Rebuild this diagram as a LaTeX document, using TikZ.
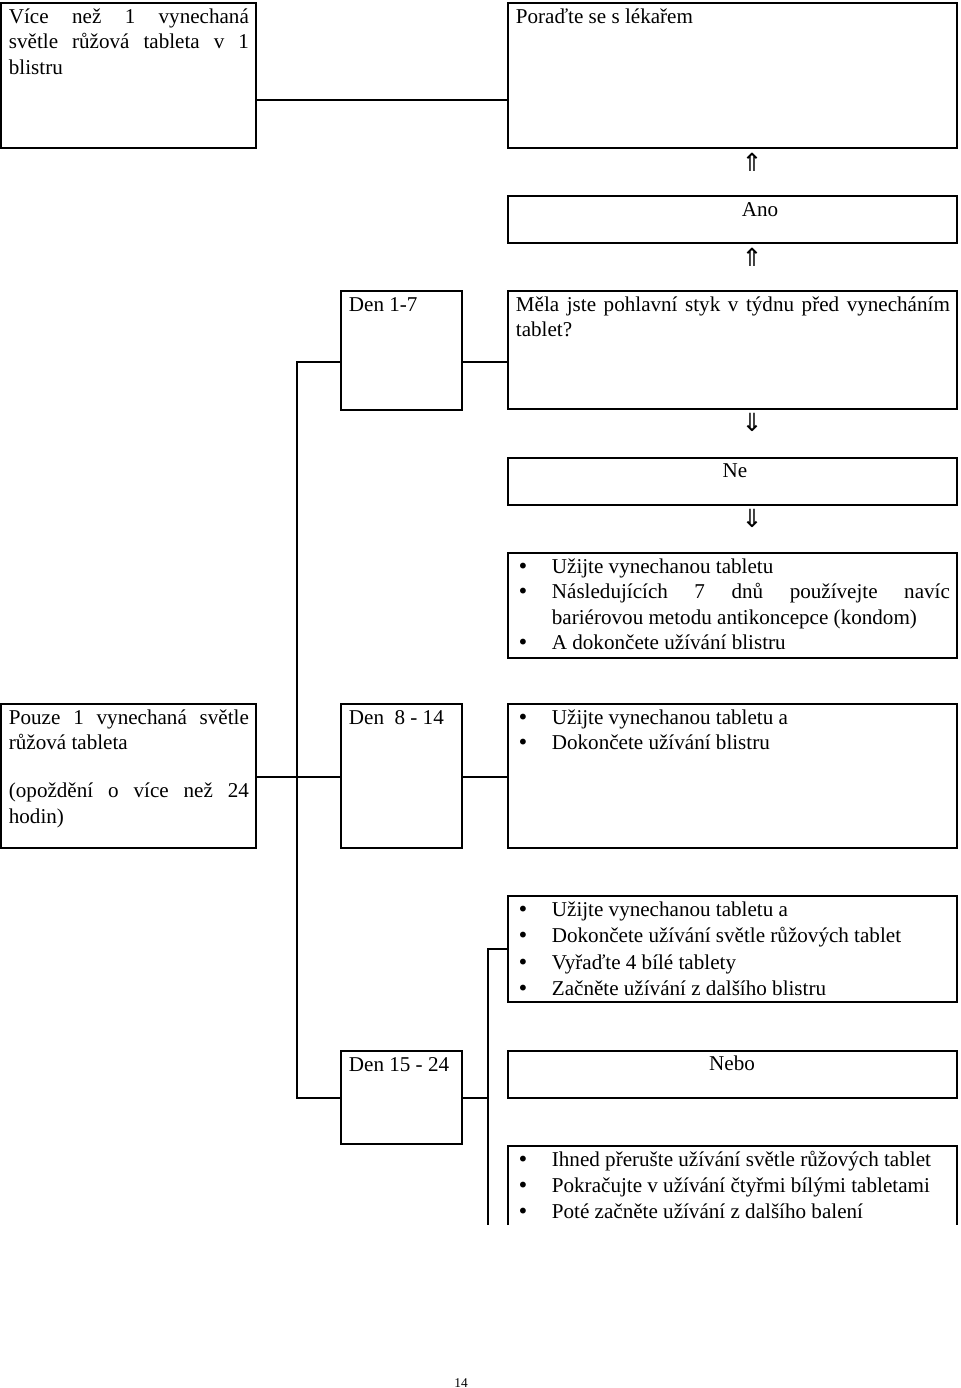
\documentclass[tikz,border=0pt]{standalone}
\usepackage{fontspec}
\setmainfont{Liberation Serif}
\newfontfamily\arrowfont{DejaVu Sans}
\usetikzlibrary{calc}
\hyphenpenalty=10000
\exhyphenpenalty=10000
\tolerance=10000
\hbadness=10000
\newcommand\bitem[1]{\noindent\hangindent=18pt\hangafter=1\makebox[18pt][l]{\hspace{0.6pt}{\arrowfont\fontsize{10}{12}\selectfont •}}#1}
\tikzset{
  bx/.style={draw, line width=0.9pt, inner sep=0pt, outer sep=0pt, anchor=north west},
  sz/.style 2 args={minimum width=#1*0.5pt, minimum height=#2*0.5pt},
  tx/.style={anchor=base west, inner sep=0pt},
  wide/.style={tx, text width=217pt, align=justify},
  narrow/.style={tx, text width=120pt, align=justify},
  ctr/.style={anchor=base, inner sep=0pt},
  arr/.style={inner sep=0pt, font=\arrowfont\fontsize{12.5}{14}\selectfont},
  ln/.style={line width=0.75pt}}
\begin{document}
\begin{tikzpicture}[x=0.5pt,y=-0.5pt, font=\fontsize{10.55}{12.75}\selectfont]
\useasboundingbox (0,0) rectangle (960,1388);

% boxes
\node[bx, sz={255}{145}] (A) at (1,3) {};
\node[bx, sz={449}{145}] (B) at (508,3) {};
\node[bx, sz={449}{47}] (Ano) at (508,196) {};
\node[bx, sz={449}{118}] (Q) at (508,291) {};
\node[bx, sz={121}{119}] (D1) at (341,291) {};
\node[bx, sz={449}{47}] (Ne) at (508,458) {};
\node[bx, sz={449}{105}] (C) at (508,553) {};
\node[bx, sz={255}{144}] (P) at (1,704) {};
\node[bx, sz={121}{144}] (D2) at (341,704) {};
\node[bx, sz={449}{144}] (C2) at (508,704) {};
\node[bx, sz={449}{106}] (E) at (508,896) {};
\node[bx, sz={121}{93}] (D3) at (341,1051) {};
\node[bx, sz={449}{47}] (Nebo) at (508,1051) {};
\node[sz={449}{79}, inner sep=0pt, outer sep=0pt, anchor=north west] (F) at (508,1146) {};
\draw[line width=0.9pt] (F.south west) -- (F.north west) -- (F.north east) -- (F.south east);

% texts
\node[narrow] (At) at ([shift={(7.5,20)}]A.north west)
  {Více než 1 vynechaná\linebreak světle růžová tableta v~1\linebreak blistru};
\node[wide] (Bt) at ([shift={(7.5,20)}]B.north west) {Poraďte se s lékařem};
\node[ctr] (Anot) at (760,216) {Ano};
\node[wide] (Qt) at ([shift={(7.5,20)}]Q.north west)
  {Měla jste pohlavní styk v~týdnu před vynecháním\linebreak tablet?};
\node[tx] (D1t) at ([shift={(7.5,20)}]D1.north west) {Den 1-7};
\node[ctr] (Net) at (735,477) {Ne};
\node[wide] (Ct) at ([shift={(7.5,20)}]C.north west)
  {\bitem{Užijte vynechanou tabletu}\par
   \bitem{Následujících 7 dnů používejte navíc\linebreak bariérovou metodu antikoncepce (kondom)}\par
   \bitem{A dokončete užívání blistru}};
\node[narrow] (Pt) at ([shift={(7.5,20)}]P.north west)
  {Pouze 1 vynechaná světle\linebreak růžová tableta\par\vspace{11.25pt}(opoždění o více než 24\linebreak hodin)};
\node[tx] (D2t) at ([shift={(7.5,20)}]D2.north west) {Den~~8 - 14};
\node[wide] (C2t) at ([shift={(7.5,20)}]C2.north west)
  {\bitem{Užijte vynechanou tabletu a}\par
   \bitem{Dokončete užívání blistru}};
\node[wide, font=\fontsize{10.55}{13.3}\selectfont] (Et) at ([shift={(7.5,20)}]E.north west)
  {\bitem{Užijte vynechanou tabletu a}\par
   \bitem{Dokončete užívání světle růžových tablet}\par
   \bitem{Vyřaďte 4 bílé tablety}\par
   \bitem{Začněte užívání z dalšího blistru}};
\node[tx] (D3t) at ([shift={(7.5,20)}]D3.north west) {Den 15 - 24};
\node[ctr] (Nebot) at (732,1070) {Nebo};
\node[wide, font=\fontsize{10.55}{13}\selectfont] (Ft) at ([shift={(7.5,20)}]F.north west)
  {\bitem{Ihned přerušte užívání světle růžových tablet}\par
   \bitem{Pokračujte v užívání čtyřmi bílými tabletami}\par
   \bitem{Poté začněte užívání z dalšího balení}};

% arrows
\node[arr] (a1) at (752,162) {⇑};
\node[arr] (a2) at (752,257) {⇑};
\node[arr] (a3) at (752,422) {⇓};
\node[arr] (a4) at (752,518) {⇓};

% connectors
\coordinate (yA) at (0,100);
\coordinate (t1) at (297,362);
\coordinate (t2) at (297,777);
\coordinate (t3) at (297,1098);
\coordinate (u1) at (488,949);
\coordinate (u2) at (488,1098);
\coordinate (u3) at (488,1225);
\draw[ln] (A.east |- yA) -- (B.west |- yA);
\draw[ln] (D1.west |- t1) -- (t1) -- (t3) -- (D3.west |- t3);
\draw[ln] (D1.east |- t1) -- (Q.west |- t1);
\draw[ln] (P.east |- t2) -- (D2.west |- t2);
\draw[ln] (D2.east |- t2) -- (C2.west |- t2);
\draw[ln] (D3.east |- u2) -- (u2);
\draw[ln] (E.west |- u1) -- (u1) -- (u3);

% page number
\node[inner sep=0pt, font=\fontsize{6.7}{8}\selectfont] (pg) at (461,1383) {14};
\end{tikzpicture}
\end{document}
